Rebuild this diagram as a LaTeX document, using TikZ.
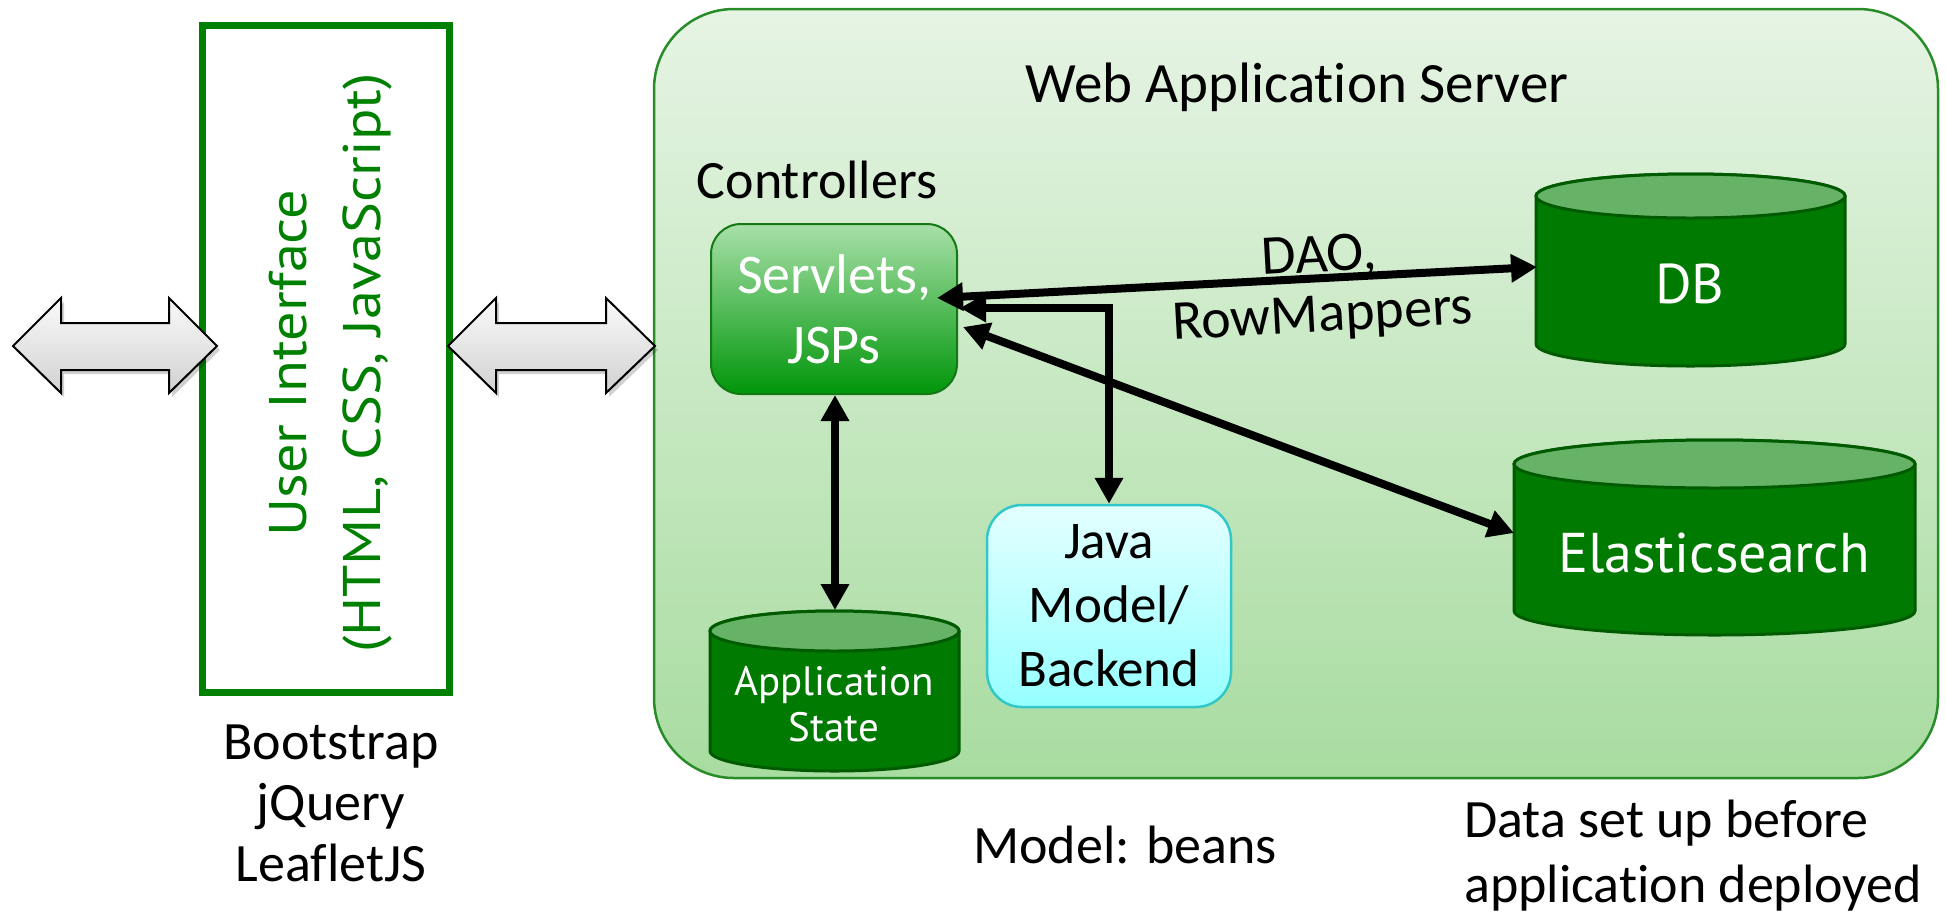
\documentclass[tikz,border=0pt]{standalone}
\usepackage{fontspec}
\setmainfont{Carlito}[Ligatures={NoCommon}]
\newfontfamily\tahfont{PT Sans}
\newfontfamily\uifont{PT Sans}[FakeStretch=1.1]
\usetikzlibrary{arrows.meta}
\definecolor{uigreen}{RGB}{0,128,0}
\definecolor{srvtop}{RGB}{230,244,228}
\definecolor{srvbot}{RGB}{168,220,160}
\definecolor{srvline}{RGB}{40,140,40}
\definecolor{sltop}{RGB}{168,224,168}
\definecolor{slbot}{RGB}{0,150,10}
\definecolor{slline}{RGB}{20,120,20}
\definecolor{jtop}{RGB}{228,255,255}
\definecolor{jbot}{RGB}{150,255,255}
\definecolor{jline}{RGB}{50,200,200}
\definecolor{cylbody}{RGB}{0,122,0}
\definecolor{cyltop}{RGB}{102,178,102}
\definecolor{cylline}{RGB}{0,90,0}
\tikzset{
  conn/.style={line width=8pt, {Triangle[length=26pt,width=27pt]}-{Triangle[length=26pt,width=27pt]}},
  gill/.style={font=\fontsize{54}{64}\selectfont, inner sep=0pt, align=center},
  dbtext/.style={font=\tahfont\fontsize{56}{64}\selectfont, text=white, inner sep=0pt, align=center},
  bigarrow/.style={draw=black, line width=2pt, top color=gray!4, bottom color=gray!36},
  bigshadow/.style={fill=black, opacity=0.18},
  cylbodystyle/.style={fill=cylbody, draw=cylline, line width=3pt},
  cyltopstyle/.style={fill=cyltop, draw=cylline, line width=3pt},
}
\begin{document}
\begin{tikzpicture}[x=1pt,y=1pt]
\useasboundingbox (0,0) rectangle (1946,-914);

% Server box
\node[draw=srvline, line width=2.5pt, rounded corners=80pt, top color=srvtop, bottom color=srvbot,
      minimum width=1284pt, minimum height=769pt, inner sep=0pt] (server) at (1296,-393.5) {};
\node[gill, font=\fontsize{57}{64}\selectfont] (title) at (1297,-87) {Web Application Server};
\node[gill] (ctrl) at (817,-180) {Controllers};

% UI box
\node[draw=uigreen, line width=7pt, minimum width=247pt, minimum height=667pt, inner sep=0pt] (ui) at (325.5,-358.5) {};
\node[rotate=90, text=uigreen, font=\uifont\fontsize{53}{74}\selectfont, align=center, inner sep=0pt] (uitext) at (331,-363)
  {User Interface\\(HTML, CSS, JavaScript)};

% big double arrows
\path[bigshadow] (16,-350) -- (64,-302) -- (64,-327) -- (172,-327) -- (172,-302) -- (220,-350)
  -- (172,-397) -- (172,-374) -- (64,-374) -- (64,-397) -- cycle;
\path[bigarrow] (13,-346) -- (61,-298) -- (61,-323) -- (169,-323) -- (169,-298) -- (217,-346)
  -- (169,-393) -- (169,-370) -- (61,-370) -- (61,-393) -- cycle;
\path[bigshadow] (451,-350) -- (499,-302) -- (499,-327) -- (609,-327) -- (609,-302) -- (658,-350)
  -- (609,-397) -- (609,-374) -- (499,-374) -- (499,-397) -- cycle;
\path[bigarrow] (448,-346) -- (496,-298) -- (496,-323) -- (606,-323) -- (606,-298) -- (655,-346)
  -- (606,-393) -- (606,-370) -- (496,-370) -- (496,-393) -- cycle;

% Bottom texts
\node[gill, font=\fontsize{54}{61}\selectfont] (libs) at (331,-803) {Bootstrap\\jQuery\\LeafletJS};
\node[gill] (model) at (1125,-845) {Model: beans};
\node[gill, align=left, anchor=west, font=\fontsize{54}{65}\selectfont] (dataset) at (1464,-856) {Data set up before\\application deployed};

% Servlets box
\node[draw=slline, line width=2pt, rounded corners=30pt, top color=sltop, bottom color=slbot,
      minimum width=246pt, minimum height=170pt, inner sep=0pt, text=white,
      font=\fontsize{56}{70}\selectfont, align=center] (srv) at (834,-309) {Servlets,\\JSPs};

% Java box
\node[draw=jline, line width=2.5pt, rounded corners=35pt, top color=jtop, bottom color=jbot,
      minimum width=244pt, minimum height=202pt, inner sep=0pt,
      font=\fontsize{53}{64}\selectfont, align=center] (java) at (1109,-606) {Java\\Model/\\Backend};

% Cylinders: DB
\path[cylbodystyle] (1536,-196) -- (1536,-344) arc[start angle=180, end angle=360, x radius=154.5pt, y radius=22pt]
  -- (1845,-196) arc[start angle=0, end angle=180, x radius=154.5pt, y radius=22pt] -- cycle;
\path[cyltopstyle] (1690.5,-196) ellipse[x radius=154.5pt, y radius=22pt];
\node[dbtext] (db) at (1690,-284) {DB};

% Elasticsearch
\path[cylbodystyle] (1514,-464) -- (1514,-611) arc[start angle=180, end angle=360, x radius=200.5pt, y radius=24pt]
  -- (1915,-464) arc[start angle=0, end angle=180, x radius=200.5pt, y radius=24pt] -- cycle;
\path[cyltopstyle] (1714.5,-464) ellipse[x radius=200.5pt, y radius=24pt];
\node[dbtext] (es) at (1714,-553) {Elasticsearch};

% Application State
\path[cylbodystyle] (710,-631) -- (710,-751) arc[start angle=180, end angle=360, x radius=124.5pt, y radius=20pt]
  -- (959,-631) arc[start angle=0, end angle=180, x radius=124.5pt, y radius=20pt] -- cycle;
\path[cyltopstyle] (834.5,-631) ellipse[x radius=124.5pt, y radius=20pt];
\node[dbtext, font=\tahfont\fontsize{41}{46}\selectfont] (appstate) at (834,-704) {Application\\State};

% connector end points
\coordinate (daoA) at (937,-298);
\coordinate (daoB) at (1537,-267);
\coordinate (elbA) at (960,-308);
\coordinate (esA) at (963,-327);
\coordinate (esB) at (1514,-533);
\coordinate (vB) at (835,-610);

\draw[conn] (daoA) -- (daoB);
\draw[conn] (elbA) -| (java.north);
\draw[conn] (esA) -- (esB);
\draw[conn] (srv.south -| vB) -- (vB);

\node[gill, rotate=3.2, font=\fontsize{56}{60}\selectfont] (daolabel) at (1321,-288) {DAO,\\RowMappers};
\end{tikzpicture}
\end{document}
